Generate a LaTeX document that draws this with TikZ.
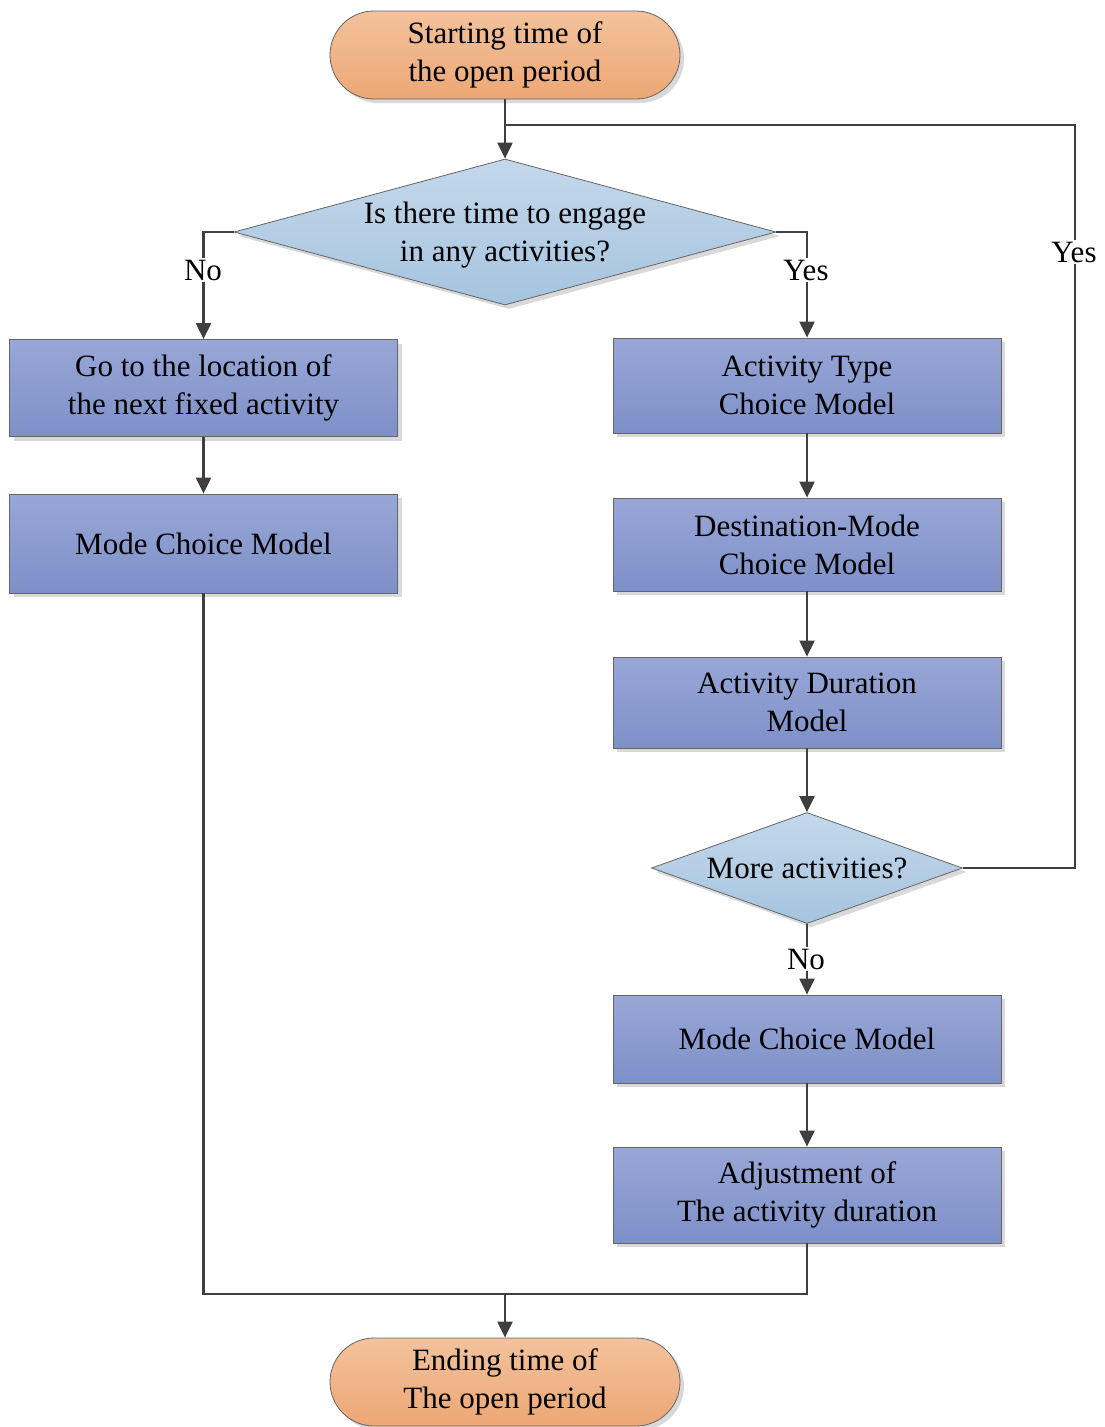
\documentclass[tikz,border=0pt]{standalone}
\usepackage{fontspec}
\setmainfont{Liberation Serif}
\usetikzlibrary{shapes.geometric,arrows.meta,shadows}
\definecolor{boxtop}{HTML}{99A7D7}
\definecolor{boxbot}{HTML}{7D90C8}
\definecolor{orgtop}{HTML}{F3C29C}
\definecolor{orgbot}{HTML}{EDA775}
\definecolor{diatop}{HTML}{C4D8EB}
\definecolor{diabot}{HTML}{A6C4DF}
\definecolor{ln}{HTML}{3F3F3F}
\tikzset{
  shad/.style={drop shadow={shadow xshift=4pt,shadow yshift=-4pt,fill=black!25,opacity=0.6}},
  procbox/.style={shape=rectangle,draw=ln!80,line width=0.8pt,top color=boxtop,bottom color=boxbot,
     minimum width=388pt,inner sep=0pt,align=center,shad},
  termbox/.style={shape=rectangle,rounded corners=44pt,draw=ln!80,line width=0.8pt,top color=orgtop,bottom color=orgbot,
     minimum width=350pt,minimum height=88pt,inner sep=0pt,align=center,shad},
  decbox/.style={shape=diamond,draw=ln!80,line width=0.8pt,top color=diatop,bottom color=diabot,inner sep=0pt,shad},
  conn/.style={draw=ln,line width=2.2pt},
  arr/.style={conn,-{Triangle[length=16pt,width=15pt]}},
  lbl/.style={fill=white,inner sep=2pt}
}
\begin{document}
\begin{tikzpicture}[x=1pt,y=-1pt,font=\fontsize{31}{38}\selectfont]
\useasboundingbox (0,0) rectangle (1104,1427);
\node[termbox] (start) at (505,55) {Starting time of\\the open period};
\node[decbox,minimum width=542pt,minimum height=146pt,
  label={[align=center,yshift=-3pt]center:Is there time to engage\\in any activities?}] (d1) at (505,232) {};
\node[procbox,minimum height=97pt] (go) at (203.5,388) {Go to the location of\\the next fixed activity};
\node[procbox,minimum height=99pt] (mcl) at (203.5,543.5) {Mode Choice Model};
\node[procbox,minimum height=95pt] (at) at (807,385.5) {Activity Type\\Choice Model};
\node[procbox,minimum height=93pt] (dm) at (807,544.5) {Destination-Mode\\Choice Model};
\node[procbox,minimum height=91pt] (ad) at (807,702.5) {Activity Duration\\Model};
\node[decbox,minimum width=311pt,minimum height=111pt,
  label={center:More activities?}] (d2) at (807,868) {};
\node[procbox,minimum height=88pt] (mcr) at (807,1039) {Mode Choice Model};
\node[procbox,minimum height=96pt] (adj) at (807,1195) {Adjustment of\\The activity duration};
\node[termbox] (end) at (505,1382) {Ending time of\\The open period};

\coordinate (jtop) at (505,125);
\coordinate (jbot) at (505,1294);

\draw[arr] (start.south) -- (d1.north);
\draw[conn] (d2.east) -- ++(112,0) |- (jtop);
\node[lbl] (yes2) at (1074,252) {Yes};

\draw[arr] (d1.west) -| (go.north);
\node[lbl] (no1) at (203,270) {No};
\draw[arr] (d1.east) -| (at.north);
\node[lbl] (yes1) at (806,270) {Yes};

\draw[arr] (go) -- (mcl);
\draw[arr] (at) -- (dm);
\draw[arr] (dm) -- (ad);
\draw[arr] (ad.south) -- (d2.north);
\draw[arr] (d2.south) -- (mcr.north);
\node[lbl] (no2) at (806,959) {No};
\draw[arr] (mcr) -- (adj);

\draw[conn] (mcl.south) |- (jbot);
\draw[conn] (adj.south) |- (jbot);
\draw[arr] (jbot) -- (end.north);
\end{tikzpicture}
\end{document}
